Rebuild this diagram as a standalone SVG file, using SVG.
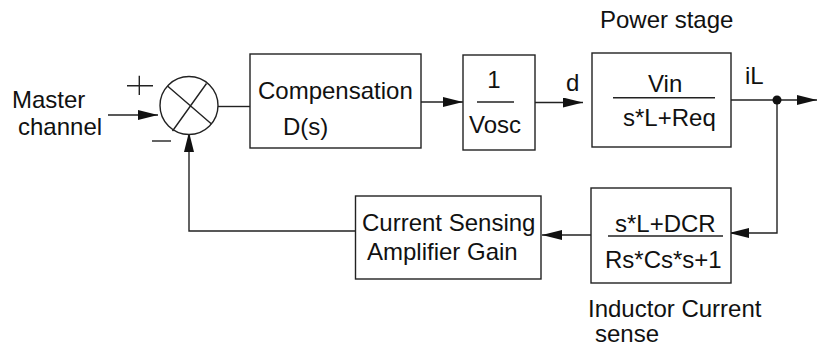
<svg xmlns="http://www.w3.org/2000/svg" width="817" height="348" viewBox="0 0 817 348">
<style>
.box{fill:#fff;stroke:#222;stroke-width:1.4}
.ln{fill:none;stroke:#222;stroke-width:1.4}
.t{font-family:"Liberation Sans",Arial,sans-serif;font-size:24px;fill:#111}
.c{text-anchor:middle}
</style>
<defs>
<marker id="ah" viewBox="0 0 20 10" refX="20" refY="5" markerWidth="20" markerHeight="10" markerUnits="userSpaceOnUse" orient="auto">
<path d="M0,0 L20,5 L0,10 z" fill="#111"/>
</marker>
</defs>
<rect width="817" height="348" fill="#fff"/>
<g id="connectors">
<path class="ln" d="M108,115 L158,115" marker-end="url(#ah)"/>
<path class="ln" d="M218,106.5 L250,106.5"/>
<path class="ln" d="M414,102 L463,102" marker-end="url(#ah)"/>
<path class="ln" d="M535,102.5 L583,102.5" marker-end="url(#ah)"/>
<path class="ln" d="M731,100 L817,100" marker-end="url(#ah)"/>
<path class="ln" d="M777,100 L777,233 L729,233" marker-end="url(#ah)"/>
<path class="ln" d="M591,235 L542,235" marker-end="url(#ah)"/>
<path class="ln" d="M355,231 L189,231 L189,132" marker-end="url(#ah)"/>
<circle cx="777" cy="100" r="4.5" fill="#111"/>
</g>
<g id="input">
<text class="t" x="12" y="108">Master</text>
<text class="t" x="18" y="135">channel</text>
</g>
<g id="sum">
<circle class="box" cx="189" cy="105.5" r="29"/>
<path class="ln" d="M167.5,86 L211.5,124 M206.5,83.5 L172.5,131"/>
<path class="ln" d="M127,85.7 L153,85.7 M139.3,75.7 L139.3,95"/>
<path class="ln" d="M152,141 L171,141"/>
</g>
<g id="compensation">
<rect class="box" x="250" y="54" width="171" height="94"/>
<text class="t" x="258" y="99">Compensation</text>
<text class="t" x="283" y="135">D(s)</text>
</g>
<g id="vosc">
<rect class="box" x="463" y="55" width="72" height="95"/>
<text class="t c" x="494" y="88">1</text>
<path class="ln" d="M477,102 L514,102"/>
<text class="t" x="469" y="133">Vosc</text>
</g>
<g id="d-label">
<text class="t" x="566" y="91">d</text>
</g>
<g id="power">
<text class="t" x="600" y="28">Power stage</text>
<rect class="box" x="592" y="53" width="139" height="94"/>
<text class="t" x="648" y="92">Vin</text>
<path class="ln" d="M613,97.7 L715,97.7"/>
<text class="t" x="623" y="126">s*L+Req</text>
</g>
<g id="il-label">
<text class="t" x="745" y="84">iL</text>
</g>
<g id="inductor">
<rect class="box" x="591" y="188" width="140" height="95"/>
<text class="t" x="615" y="232">s*L+DCR</text>
<path class="ln" d="M608,236 L723,236"/>
<text class="t" x="605" y="268">Rs*Cs*s+1</text>
<text class="t" x="588" y="317">Inductor Current</text>
<text class="t" x="595" y="342">sense</text>
</g>
<g id="sensing">
<rect class="box" x="355.5" y="196" width="185.5" height="83"/>
<text class="t" x="362" y="231">Current Sensing</text>
<text class="t" x="367" y="260">Amplifier Gain</text>
</g>
</svg>
